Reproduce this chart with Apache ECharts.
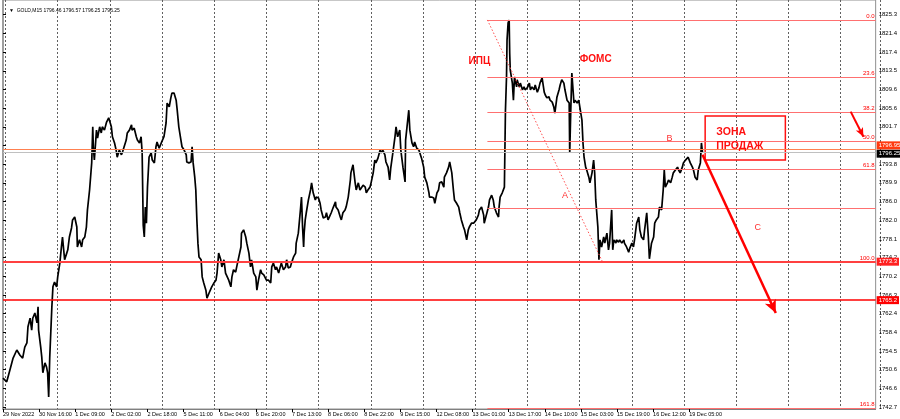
<!DOCTYPE html>
<html><head><meta charset="utf-8">
<script src="https://cdn.jsdelivr.net/npm/echarts@6/dist/echarts.min.js"></script>
<style>html,body{margin:0;padding:0;background:#fff}#c{width:900px;height:419px}</style>
</head><body><div id="c"></div>
<script>
// ---- data (M15 bars from first bar, closing prices) ----
const barIndex = [0,7,13,19,26,32,37,41,45,47,51,54,56,60,64,66,67,71,73,75,79,82,84,86,88,92,94,97,101,103,107,110,112,116,120,122,125,129,131,135,139,140,144,148,150,154,157,159,163,167,169,170,172,176,178,182,185,187,191,195,199,204,206,210,213,215,219,223,225,228,232,234,238,242,243,247,251,253,257,260,262,264,266,268,270,272,275,279,281,285,288,290,294,298,300,303,307,309,313,316,318,322,326,328,331,335,337,341,345,346,350,354,356,358,361,363,365,367,369,373,375,378,382,384,388,391,393,397,401,403,406,410,412,416,419,421,425,429,431,434,438,440,444,448,449,453,457,459,463,466,468,472,476,478,481,485,487,491,494,496,500,504,506,509,513,515,519,522,524,528,532,534,537,541,543,547,551,552,556,560,562,564,566,567,569,571,575,579,581,584,588,590,594,597,599,603,607,609,612,616,618,622,626,627,631,635,637,640,644,646,650,654,655,659,663,665,669,672,674,678,682,684,687,691,693,697,700,702,706,710,712,715,719,721,725,728,730,734,738,740,743,747,749,753,757,758,762,764,766,770,773,775,779,783,785,788,792,794,798,802,803,807,811,813,817,820,822,826,830,831,835,839,841,845,848,850,854,858,860,863,867,869,873,876,878,882,886,888,891,895,897,901,905,906,910,914,916,920,923,925,929,933,934,936,940,944,946,948,949,951,953,954,955,959,961,963,967,968,972,974,978,981,983,987,991,993,996,1000,1002,1006,1009,1011,1015,1019,1021,1024,1028,1030,1034,1037,1039,1043,1047,1049,1052,1056,1058,1062,1066,1067,1069,1071,1075,1077,1081,1084,1086,1090,1092,1094,1097,1099,1103,1105,1109,1112,1114,1116,1120,1122,1124,1127,1131,1133,1137,1140,1142,1146,1148,1150,1154,1155,1159,1161,1165,1169,1170,1174,1178,1180,1184,1187,1189,1193,1197,1199,1202,1206,1208,1212,1215,1217,1221,1225,1227,1230,1234,1236,1240,1243,1245,1247,1251,1253,1257,1260,1262,1266,1270,1272,1275,1279,1281,1285,1288,1290,1294,1298,1300,1303,1307,1309,1313,1315,1317];
const closePrice = [1748.8,1748.0,1750.5,1753.0,1754.7,1753.6,1753.0,1755.3,1756.2,1759.6,1761.4,1758.9,1761.4,1762.5,1760.4,1763.8,1758.9,1755.3,1753.2,1749.9,1752.0,1751.1,1749.9,1744.8,1753.2,1763.8,1768.0,1769.0,1768.0,1770.1,1773.0,1776.4,1778.5,1773.7,1775.1,1775.8,1778.5,1780.4,1782.1,1782.7,1780.6,1776.4,1777.9,1776.4,1777.9,1778.5,1780.6,1784.2,1788.4,1794.1,1801.7,1797.5,1794.7,1801.0,1799.3,1801.7,1800.4,1801.7,1801.0,1802.7,1803.6,1801.7,1799.6,1798.3,1796.8,1795.3,1796.8,1795.8,1796.4,1796.8,1798.9,1800.4,1801.0,1802.1,1801.0,1801.4,1799.6,1798.9,1798.3,1799.6,1796.2,1781.0,1778.5,1784.8,1781.4,1789.0,1795.3,1796.2,1794.7,1794.1,1797.5,1798.5,1797.2,1798.3,1798.5,1799.6,1802.5,1806.7,1805.9,1807.8,1808.8,1808.8,1807.3,1805.2,1801.7,1798.9,1797.5,1796.8,1795.8,1794.3,1794.1,1794.3,1797.5,1794.1,1791.1,1788.4,1782.1,1777.2,1774.3,1773.7,1770.1,1768.8,1767.3,1765.6,1766.7,1766.9,1768.0,1768.8,1769.4,1770.9,1775.1,1773.7,1772.2,1773.7,1770.9,1771.1,1769.4,1768.0,1770.1,1771.6,1771.1,1772.2,1774.3,1776.4,1779.3,1780.0,1778.5,1777.2,1775.1,1772.2,1773.7,1770.9,1770.1,1767.3,1769.4,1771.6,1770.9,1770.5,1770.1,1769.4,1769.4,1768.8,1772.2,1773.0,1771.6,1772.2,1770.9,1772.2,1773.0,1771.6,1772.2,1773.7,1772.0,1772.2,1773.0,1774.3,1775.1,1777.2,1779.3,1784.2,1786.9,1780.6,1776.4,1779.3,1782.1,1783.6,1786.3,1788.4,1789.9,1787.8,1786.3,1786.9,1786.7,1785.6,1784.2,1782.5,1782.7,1783.6,1782.1,1783.1,1783.6,1784.8,1785.9,1784.8,1784.2,1782.7,1782.1,1783.6,1784.2,1784.8,1786.9,1790.5,1792.0,1793.7,1789.9,1788.4,1789.9,1788.4,1788.8,1789.4,1789.0,1787.8,1788.4,1789.0,1789.9,1792.0,1794.7,1794.1,1795.1,1796.8,1796.2,1796.8,1795.8,1794.3,1793.2,1790.5,1793.0,1796.2,1799.6,1801.7,1799.6,1801.0,1796.8,1793.2,1790.1,1798.9,1803.1,1805.2,1801.0,1798.3,1797.5,1798.5,1797.2,1796.8,1796.4,1795.1,1793.2,1791.1,1789.9,1787.8,1786.9,1786.9,1786.7,1785.6,1787.8,1788.4,1789.9,1790.1,1789.0,1791.1,1792.0,1793.2,1794.3,1792.0,1788.4,1786.3,1785.6,1784.8,1783.6,1782.1,1780.6,1780.0,1777.9,1780.0,1780.6,1781.4,1781.4,1781.4,1782.1,1783.1,1784.2,1784.8,1783.1,1781.4,1783.1,1784.8,1786.3,1787.3,1786.3,1784.8,1783.6,1782.7,1784.8,1786.9,1787.8,1789.0,1805.2,1812.2,1820.0,1823.6,1824.2,1817.2,1813.7,1810.9,1807.3,1812.2,1810.1,1811.6,1810.1,1810.9,1809.5,1810.1,1809.5,1809.9,1810.9,1809.5,1810.1,1809.5,1810.5,1809.0,1809.9,1810.9,1812.0,1809.0,1808.4,1807.8,1808.0,1807.3,1806.9,1805.9,1804.6,1808.0,1809.5,1810.5,1811.6,1810.9,1809.5,1807.3,1806.7,1796.2,1805.2,1813.0,1806.7,1807.3,1806.7,1807.3,1805.9,1803.1,1798.3,1795.3,1793.2,1792.6,1791.1,1789.9,1792.0,1794.7,1792.0,1786.3,1780.6,1773.7,1777.9,1776.4,1778.5,1777.2,1779.3,1775.8,1777.2,1784.2,1775.8,1777.9,1777.2,1777.9,1777.4,1777.9,1777.2,1777.9,1777.2,1776.4,1775.3,1776.1,1777.2,1776.4,1777.9,1781.4,1782.7,1780.0,1778.5,1777.9,1780.0,1783.6,1778.5,1773.9,1777.2,1778.5,1781.4,1782.1,1782.7,1784.8,1784.2,1788.4,1792.6,1789.0,1789.9,1790.5,1789.9,1791.1,1792.0,1792.6,1793.2,1792.6,1792.0,1793.2,1794.1,1794.7,1794.3,1795.3,1794.1,1793.2,1792.6,1791.1,1790.5,1792.6,1794.1,1798.3,1796.25];

const timeLabels = ['29 Nov 2022','30 Nov 16:00','1 Dec 09:00','2 Dec 02:00','2 Dec 18:00','5 Dec 11:00','6 Dec 04:00','6 Dec 20:00','7 Dec 13:00','8 Dec 06:00','8 Dec 22:00','9 Dec 15:00','12 Dec 08:00','13 Dec 01:00','13 Dec 17:00','14 Dec 10:00','15 Dec 03:00','15 Dec 19:00','16 Dec 12:00','19 Dec 05:00'];
const timeLabelBars = [0,68,136,204,272,340,408,476,544,612,680,748,816,884,952,1020,1088,1156,1224,1292];
const priceTicks = [1742.7,1746.6,1750.6,1754.5,1758.4,1762.4,1766.3,1770.2,1774.2,1778.1,1782.0,1786.0,1789.9,1793.8,1797.8,1801.7,1805.6,1809.6,1813.5,1817.4,1821.4,1825.3];

const header = 'GOLD,M15 1796.46 1796.57 1796.25 1796.25';
const fibLevels = [0, 23.6, 38.2, 50.0, 61.8, 100.0, 161.8];
const fibHigh = 1824.2, fibLow = 1773.2;
const fibStartBar = 912, fibEndBar = 1129;
const extraLevel = 1784.5;
const supportLevels = [1773.3, 1765.2];
const bidPrice = 1796.25, askPrice = 1796.95;
const notes = [
  {text:'ИПЦ', bar:897, price:1815.4, bold:true},
  {text:'ФОМС', bar:1116, price:1815.9, bold:true},
  {text:'A', bar:1058, price:1787.3, bold:false},
  {text:'B', bar:1255, price:1799.3, bold:false},
  {text:'C', bar:1421, price:1780.45, bold:false}
];
const zone = {bar0:1322, bar1:1473, top:1804.0, bottom:1794.7, text:'ЗОНА\nПРОДАЖ', textBar:1342, textPrice:1799.1};
const arrows = [
  {from:[1317,1795.8], to:[1455,1762.5], width:2.5, head:[9,13]},
  {from:[1596,1804.9], to:[1620,1799.6], width:2, head:[6,9]}
];

// ---- layout constants ----
const Y_MIN = 1742.28, Y_MAX = 1828.4, X_MAX = 1643;
const FONT = 'Liberation Sans';
const RED = '#ff0000';

const chart = echarts.init(document.getElementById('c'));

const fibLines = fibLevels.map(r => {
  let p = fibHigh - r / 100 * (fibHigh - fibLow);
  if (p < Y_MIN) p = Y_MIN + 0.08;
  return [{name: r.toFixed(1), coord:[fibStartBar, p]}, {coord:[X_MAX, p]}];
});

const noteData = notes.map(n => ({value: [n.bar, n.price], label: {show: true, position: 'inside', formatter: n.text,
  color: n.bold ? '#ff1010' : '#ff3030', fontWeight: n.bold ? 'bold' : 'normal', fontSize: n.bold ? 10 : 9, fontFamily: FONT}}));
noteData.push({value: [zone.textBar, zone.textPrice], label: {show: true, position: 'right', distance: 0, align: 'left',
  formatter: zone.text, color: '#ff1010', fontWeight: 'bold', fontSize: 10.5, lineHeight: 13.5, fontFamily: FONT}});

const option = {
  animation: false,
  backgroundColor: '#ffffff',
  title: {text: '▼  ' + header, left: 4, top: 3, textStyle: {fontSize: 5, fontWeight: 'normal', color: '#000', fontFamily: FONT}},
  grid: [
    {left: 3, right: 19.5, top: 0, bottom: 10, show: true, borderColor: '#909090', borderWidth: 1},
    {left: 5.5, right: 19.5, top: 0, bottom: 10}
  ],
  xAxis: [
    {type: 'value', gridIndex: 0, min: 0, max: X_MAX, splitLine: {show: false},
     axisLine: {show: true, lineStyle: {color: '#808080'}},
     axisTick: {show: true, customValues: timeLabelBars, length: 3, lineStyle: {color: '#000'}},
     axisLabel: {customValues: timeLabelBars, formatter: v => timeLabels[timeLabelBars.indexOf(v)], align: 'left',
                 fontSize: 5.5, margin: 2, color: '#000', fontFamily: FONT}},
    {type: 'value', gridIndex: 1, min: 0, max: 875 / 52.2, interval: 1,
     axisLine: {show: false}, axisTick: {show: false}, axisLabel: {show: false},
     splitLine: {show: true, lineStyle: {color: '#606060', type: [2, 2], width: 1}}}
  ],
  yAxis: [
    {type: 'value', gridIndex: 0, position: 'right', min: Y_MIN, max: Y_MAX, splitLine: {show: false},
     axisLine: {show: true, lineStyle: {color: '#909090', width: 1.5}},
     axisTick: {show: true, customValues: priceTicks, length: 3, lineStyle: {color: '#000'}},
     axisLabel: {customValues: priceTicks, formatter: v => v.toFixed(1), fontSize: 6, margin: 3, color: '#000', fontFamily: FONT}},
    {type: 'value', gridIndex: 1, min: 0, max: 1, show: false}
  ],
  series: [
    {type: 'line', name: 'levels', xAxisIndex: 0, yAxisIndex: 0, data: [], z: 1, silent: true,
     markLine: {silent: true, symbol: 'none', animation: false,
       lineStyle: {color: '#ff7070', width: 1, type: 'solid'},
       label: {show: true, position: 'insideEndTop', formatter: '{b}', fontSize: 6, color: RED, distance: 1, fontFamily: FONT},
       data: fibLines.concat([
         [{name: '', coord: [fibStartBar, extraLevel], label: {show: false}}, {coord: [X_MAX, extraLevel]}],
         [{name: '', coord: [fibStartBar, fibHigh], label: {show: false}, lineStyle: {type: [1.5, 2], color: '#ff5050'}}, {coord: [fibEndBar, fibLow]}]
       ])}},
    {type: 'line', name: 'hlines', xAxisIndex: 0, yAxisIndex: 0, data: [], z: 2, silent: true,
     markLine: {silent: true, symbol: 'none', animation: false,
       label: {show: true, position: 'end', distance: 1, fontSize: 6, color: '#fff', padding: [1, 2], fontFamily: FONT,
               formatter: p => p.value.toFixed(p.value === bidPrice ? 2 : 1)},
       data: [
         {yAxis: supportLevels[0], lineStyle: {color: '#ff4040', width: 2, type: 'solid'}, label: {backgroundColor: '#ff2020'}},
         {yAxis: supportLevels[1], lineStyle: {color: '#ff0000', width: 1.5, type: 'solid'}, label: {backgroundColor: '#ff0000'}},
         {yAxis: bidPrice, lineStyle: {color: '#c0c0c0', width: 1, type: 'solid'}, label: {backgroundColor: '#000', offset: [0, 1]}},
         {yAxis: askPrice, lineStyle: {color: '#ff8050', width: 1, type: 'solid'}, label: {backgroundColor: '#ff3a10', offset: [0, -4],
           formatter: p => p.value.toFixed(2)}}
       ]}},
    {type: 'line', name: 'GOLD', xAxisIndex: 0, yAxisIndex: 0, z: 3,
     data: barIndex.map((b, i) => [b, closePrice[i]]),
     showSymbol: false, symbol: 'none', lineStyle: {color: '#000', width: 1.7}},
    {type: 'line', name: 'arrows', xAxisIndex: 0, yAxisIndex: 0, data: [], z: 4, silent: true,
     markLine: {silent: true, animation: false, symbol: ['none', 'arrow'], label: {show: false},
       data: arrows.map(a => [{coord: a.from, symbolSize: a.head, lineStyle: {color: RED, width: a.width, type: 'solid'}},
                              {coord: a.to, symbolSize: a.head}])},
     markArea: {silent: true,
       itemStyle: {color: 'rgba(255,255,255,0)', borderColor: '#ff1010', borderWidth: 1.5},
       label: {show: false},
       data: [[{coord: [zone.bar0, zone.top]}, {coord: [zone.bar1, zone.bottom]}]]}},
    {type: 'scatter', name: 'notes', xAxisIndex: 0, yAxisIndex: 0, z: 5, silent: true,
     symbolSize: 1, itemStyle: {color: 'rgba(255,255,255,0)', opacity: 1},
     data: noteData}
  ]
};
chart.setOption(option);
</script>
</body></html>
